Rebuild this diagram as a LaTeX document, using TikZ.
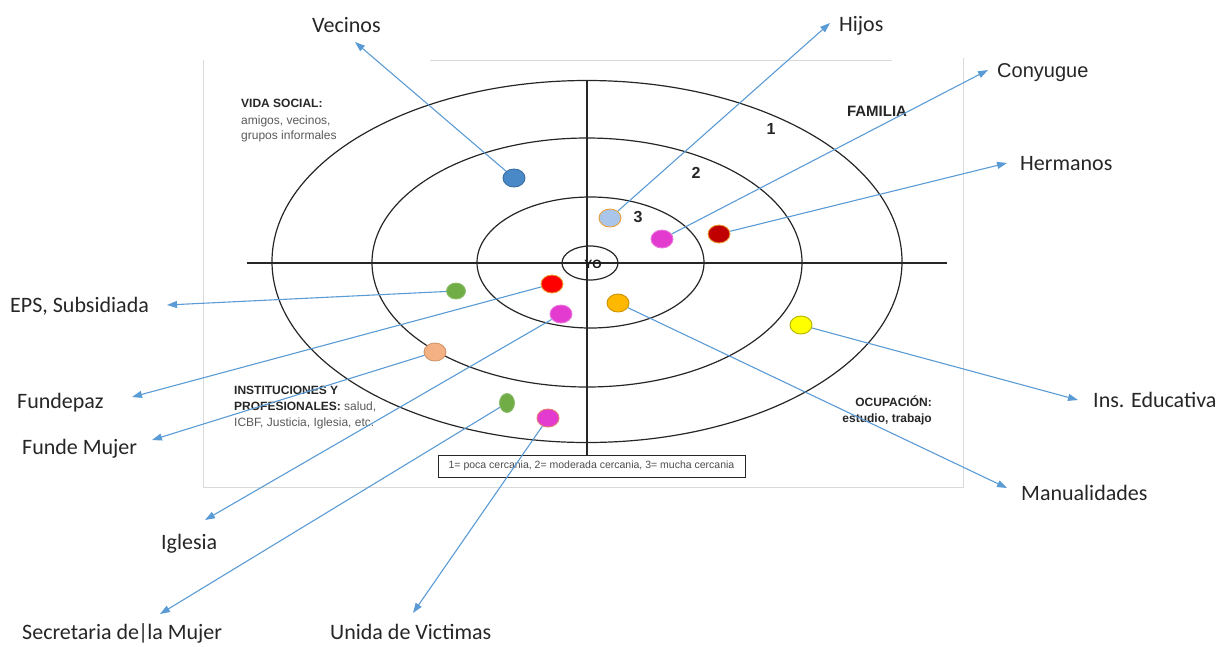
\documentclass[tikz,border=0pt]{standalone}
\usepackage{fontspec}
\setmainfont{Carlito}
\newfontfamily\arialfont{Liberation Sans}
\usetikzlibrary{shapes.geometric,arrows.meta}
\definecolor{arrowblue}{HTML}{5B9BD5}
\definecolor{dotblue}{HTML}{4A89C8}
\definecolor{dotpale}{HTML}{A9C6EA}
\definecolor{dotmagenta}{HTML}{E33BCF}
\definecolor{dotdarkred}{HTML}{C00000}
\definecolor{dotgreen}{HTML}{70AD47}
\definecolor{dotred}{HTML}{FF0000}
\definecolor{dotorange}{HTML}{FFB800}
\definecolor{dotyellow}{HTML}{FFFF00}
\definecolor{dotpeach}{HTML}{F4B183}
\definecolor{rimorange}{HTML}{E9A03A}

\begin{document}
\begin{tikzpicture}[x=1pt,y=-1pt,
    ring/.style={draw=black!85,line width=1.2pt},
    frameline/.style={draw=black!15,line width=0.8pt},
    dot/.style={ellipse,draw,line width=0.9pt,minimum width=22pt,minimum height=18pt,inner sep=0pt},
    arr/.style={draw=arrowblue,line width=1.1pt,-{Triangle[length=10pt,width=7pt]}},
    lbl/.style={anchor=base west,inner sep=0pt,text=black!85,font=\fontsize{22}{24}\selectfont},
    small/.style={anchor=base west,inner sep=0pt,text=black!65,font=\arialfont\fontsize{12}{14}\selectfont},
    head/.style={small,text=black!85,font=\arialfont\bfseries\fontsize{12}{14}\selectfont},
    num/.style={text=black!85,font=\arialfont\bfseries\fontsize{16}{18}\selectfont}]
  \useasboundingbox (0,0) rectangle (1224,646);

  % frame of the scanned chart
  \draw[frameline] (203,60) -- (203,487) -- (963,487) -- (963,58);
  \draw[frameline] (430,60) -- (892,60);

  % rings
  \draw[ring] (587,261.5) ellipse (315pt and 181pt);
  \draw[ring] (587,262.5) ellipse (215pt and 124.5pt);
  \draw[ring] (590.5,262.5) ellipse (113.5pt and 65.5pt);
  \draw[ring] (590,263) ellipse (28pt and 17pt);
  \draw[ring] (247,263) -- (947,263);

  % legend
  \node[draw=black!85,line width=0.9pt,minimum width=307pt,minimum height=22pt,inner sep=0pt,
        text=black!70,font=\arialfont\fontsize{10.5}{12}\selectfont] (legend) at (591.5,466)
    {1= poca cercania, 2= moderada cercania, 3= mucha cercania};
  \draw[ring] (587,80) -- (587,80 |- legend.north);

  \node[text=black!90,font=\arialfont\bfseries\fontsize{12}{14}\selectfont] (yo) at (593,264) {YO};
  \node[num] (one) at (771,129) {1};
  \node[num] (two) at (696,173) {2};
  \node[num] (three) at (638,217) {3};
  \node[text=black!85,font=\arialfont\bfseries\fontsize{15}{17}\selectfont] (familia) at (877,111) {FAMILIA};

  % sector texts
  \node[head] (vida) at (241,107) {VIDA SOCIAL:};
  \node[small] (vida2) at (241,124) {amigos, vecinos,};
  \node[small] (vida3) at (241,139) {grupos informales};
  \node[head] (inst) at (234,394) {INSTITUCIONES Y};
  \node[head] (inst2) at (234,410) {PROFESIONALES: {\mdseries\color{black!65}salud,}};
  \node[small] (inst3) at (234,426) {ICBF, Justicia, Iglesia, etc.};
  \node[head,anchor=base east] (ocup) at (932,406) {OCUPACIÓN:};
  \node[head,anchor=base east] (ocup2) at (932,422) {estudio, trabajo};

  % people and places
  \node[dot,fill=dotblue,draw=dotblue!80!black] (vecinosDot) at (514,178) {};
  \node[dot,fill=dotpale,draw=rimorange] (hijosDot) at (610,218) {};
  \node[dot,fill=dotmagenta,draw=dotmagenta!70!white] (conyugueDot) at (662,239) {};
  \node[dot,fill=dotdarkred,draw=rimorange] (hermanosDot) at (719,234) {};
  \node[dot,fill=dotgreen,draw=dotgreen!80!white,minimum width=19pt,minimum height=16pt] (epsDot) at (456,291) {};
  \node[dot,fill=dotred,draw=rimorange] (fundepazDot) at (552,284) {};
  \node[dot,fill=dotmagenta,draw=dotmagenta!70!white] (iglesiaDot) at (561,314) {};
  \node[dot,fill=dotorange,draw=dotorange!80!black] (manualDot) at (618,303) {};
  \node[dot,fill=dotyellow,draw=dotyellow!70!black] (educaDot) at (801,325) {};
  \node[dot,fill=dotpeach,draw=dotpeach!85!black] (mujerDot) at (435,352) {};
  \node[dot,fill=dotgreen,draw=dotgreen!80!white,minimum width=15pt,minimum height=19pt] (secretariaDot) at (507,403) {};
  \node[dot,fill=dotmagenta,draw=rimorange!60!dotmagenta] (victimasDot) at (548,418) {};

  % outside labels
  \node[lbl] (vecinos) at (312,32) {Vecinos};
  \node[lbl] (hijos) at (839,31) {Hijos};
  \node[lbl,font=\arialfont\fontsize{20}{22}\selectfont] (conyugue) at (997,77) {Conyugue};
  \node[lbl] (hermanos) at (1020,170) {Hermanos};
  \node[lbl] (eps) at (10,312) {EPS, Subsidiada};
  \node[lbl] (fundepaz) at (17,408) {Fundepaz};
  \node[lbl] (fundeMujer) at (22,454) {Funde Mujer};
  \node[lbl] (iglesia) at (161,549) {Iglesia};
  \node[lbl] (secretaria) at (22,639) {Secretaria de\kern-1pt|\kern-1pt la Mujer};
  \node[lbl] (victimas) at (330,639) {Unida de Victimas};
  \node[lbl] (educa) at (1093,407) {Ins. Educativa};
  \node[lbl] (manual) at (1021,500) {Manualidades};

  \coordinate (vecinosTip) at (355,42);
  \coordinate (hijosTip) at (830,23);
  \coordinate (conyugueTip) at (988,70);
  \coordinate (hermanosTip) at (1007,163);
  \coordinate (epsTip) at (167,305);
  \coordinate (fundepazTip) at (132,397);
  \coordinate (fundeMujerTip) at (152,440);
  \coordinate (iglesiaTip) at (205,520);
  \coordinate (secretariaTip) at (160,614);
  \coordinate (victimasTip) at (413,613);
  \coordinate (educaTip) at (1078,400);
  \coordinate (manualTip) at (1007,488);

  % connectors
  \foreach \n/\m in {vecinosDot/vecinosTip,hijosDot/hijosTip,conyugueDot/conyugueTip,
      hermanosDot/hermanosTip,epsDot/epsTip,fundepazDot/fundepazTip,mujerDot/fundeMujerTip,
      iglesiaDot/iglesiaTip,secretariaDot/secretariaTip,victimasDot/victimasTip,
      educaDot/educaTip,manualDot/manualTip}
    \draw[arr] (\n) -- (\m);
\end{tikzpicture}
\end{document}
